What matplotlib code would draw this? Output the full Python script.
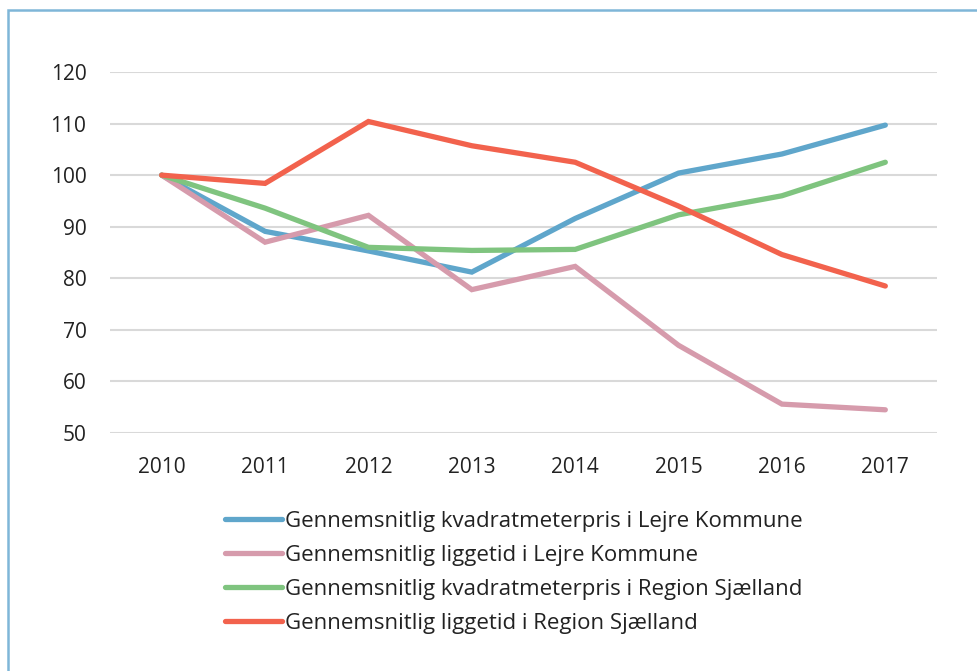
#index chart: kvadratmeterpris og liggetid, Lejre vs Region Sjælland
import matplotlib.pyplot as plt
from matplotlib.patches import Rectangle

plt.rcParams['font.family'] = ['Open Sans', 'DejaVu Sans']

years = ['2010', '2011', '2012', '2013', '2014', '2015', '2016', '2017']

pris_lejre = [100, 89.1, 85.3, 81.2, 91.6, 100.4, 104.1, 109.7]
ligge_lejre = [100, 87.0, 92.2, 77.8, 82.3, 67.0, 55.6, 54.5]
pris_region = [100, 93.6, 86.0, 85.4, 85.6, 92.3, 96.0, 102.5]
ligge_region = [100, 98.4, 110.4, 105.7, 102.5, 94.0, 84.6, 78.5]

labels = ['Gennemsnitlig kvadratmeterpris i Lejre Kommune',
          'Gennemsnitlig liggetid i Lejre Kommune',
          'Gennemsnitlig kvadratmeterpris i Region Sjælland',
          'Gennemsnitlig liggetid i Region Sjælland']
colors = ['#5fa6cb', '#d69bac', '#7fc47f', '#f2624d']

fig = plt.figure(figsize=(9.78, 6.71), dpi=100)
ax = fig.add_axes([110/978, 1-433/671, 827/978, 361/671])

x = range(len(years))
for vals, lab, c in zip([pris_lejre, ligge_lejre, pris_region, ligge_region], labels, colors):
    ax.plot(x, vals, color=c, lw=3.8, label=lab, solid_capstyle='round', solid_joinstyle='miter')

ax.set_xlim(-0.5, 7.5)
ax.set_ylim(50, 120)
ax.set_yticks(range(50, 121, 10))
ax.set_xticks(list(x))
ax.set_xticklabels(years)
ax.yaxis.grid(True, color='#d9d9d9', lw=1.5)
ax.set_axisbelow(True)
for s in ax.spines.values():
    s.set_visible(False)
ax.tick_params(length=0, labelsize=15, labelcolor='#222222')
ax.tick_params(axis='y', pad=17)
ax.tick_params(axis='x', pad=17)

handles, labs = ax.get_legend_handles_labels()
leg = fig.legend(handles, labs, loc='upper left', bbox_to_anchor=(205/978, 1-491/671),
                 frameon=False, fontsize=16, handlelength=2.55, handletextpad=0.15,
                 labelspacing=0.58)
for t in leg.get_texts():
    t.set_color('#222222')

# outer frame
fig.patches.append(Rectangle((8/978, -0.1), 1.2, 1-10/671+0.1, transform=fig.transFigure,
                             fill=False, edgecolor='#7fb6d8', lw=1.8))

fig.savefig('out.png', dpi=100)
